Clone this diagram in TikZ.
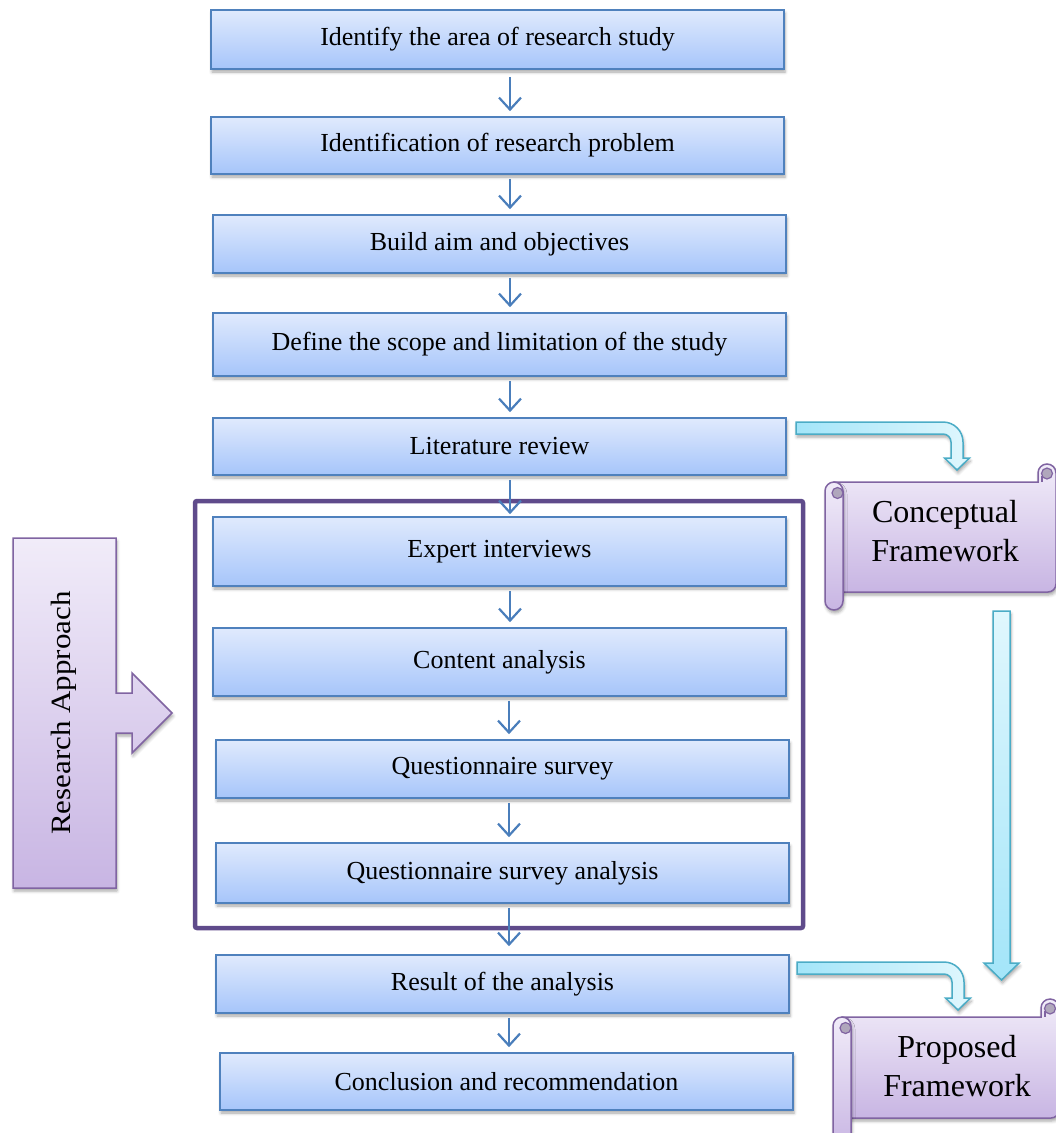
\documentclass[tikz,border=0pt]{standalone}
\usepackage{fontspec}
\setmainfont{Liberation Serif}
\usetikzlibrary{arrows.meta,shadows.blur}

\definecolor{boxtop}{RGB}{224,234,253}
\definecolor{boxbot}{RGB}{166,197,250}
\definecolor{boxline}{RGB}{79,129,189}
\definecolor{arrowblue}{RGB}{74,126,187}
\definecolor{frameviolet}{RGB}{95,75,139}
\definecolor{lilactop}{RGB}{241,236,249}
\definecolor{lilacbot}{RGB}{200,181,227}
\definecolor{lilacline}{RGB}{128,100,162}
\definecolor{curlgrey}{RGB}{176,167,188}
\definecolor{cyanline}{RGB}{75,172,198}
\definecolor{cyandeep}{RGB}{163,229,249}
\definecolor{cyanpale}{RGB}{224,247,253}

\begin{document}
\begin{tikzpicture}[x=1pt,y=-1pt,
  softshadow/.style={blur shadow={shadow xshift=1pt, shadow yshift=-3pt,
      shadow opacity=35, shadow blur radius=3pt}},
  stepbox/.style={draw=boxline, line width=1.6pt, top color=boxtop,
      bottom color=boxbot, minimum width=573pt, inner sep=0pt,
      font=\fontsize{26}{30}\selectfont, softshadow},
  flow/.style={draw=arrowblue, line width=2.2pt,
      -{Straight Barb[length=12pt, width=22pt]},
      shorten <=4pt, shorten >=5pt},
  groupframe/.style={draw=frameviolet, line width=4.5pt, rounded corners=2pt,
      inner sep=0pt},
  lilac/.style={draw=lilacline, line width=1.5pt, top color=lilactop,
      bottom color=lilacbot, softshadow},
  curl/.style={draw=lilacline, line width=1.2pt, fill=curlgrey},
  cyanarrow/.style={draw=cyanline, line width=1.5pt, softshadow},
  scrolltext/.style={align=center, font=\fontsize{32}{39}\selectfont},
]
\useasboundingbox (0,0) rectangle (1056,1133);
\clip (0,0) rectangle (1056,1133);

% ---- outline of the research-approach group
\node[groupframe, minimum width=608pt, minimum height=427pt] (grp) at (499,714.5) {};

% ---- main chain of steps
\node[stepbox, minimum height=59pt] (b1)  at (497.5,39.5)  {Identify the area of research study};
\node[stepbox, minimum height=57pt] (b2)  at (497.5,145.5) {Identification of research problem};
\node[stepbox, minimum height=58pt] (b3)  at (499.5,244)   {Build aim and objectives};
\node[stepbox, minimum height=63pt] (b4)  at (499.5,344.5) {Define the scope and limitation of the study};
\node[stepbox, minimum height=57pt] (b5)  at (499.5,446.5) {Literature review};
\node[stepbox, minimum height=69pt] (b6)  at (499.5,551.5) {Expert interviews};
\node[stepbox, minimum height=68pt] (b7)  at (499.5,662)   {Content analysis};
\node[stepbox, minimum height=58pt] (b8)  at (502.5,769)   {Questionnaire survey};
\node[stepbox, minimum height=60pt] (b9)  at (502.5,873)   {Questionnaire survey analysis};
\node[stepbox, minimum height=58pt] (b10) at (502.5,984)   {Result of the analysis};
\node[stepbox, minimum height=57pt] (b11) at (506.5,1081.5){Conclusion and recommendation};

% ---- connectors between the steps
\coordinate (ax) at (510,0);
\coordinate (bx) at (509,0);
\draw[flow, shorten <=7pt] (b1.south -| ax) -- (b2.north -| ax);
\draw[flow] (b2.south -| ax) -- (b3.north -| ax);
\draw[flow] (b3.south -| ax) -- (b4.north -| ax);
\draw[flow] (b4.south -| ax) -- (b5.north -| ax);
\draw[flow, shorten >=2pt] (b5.south -| ax) -- (b6.north -| ax);
\draw[flow] (b6.south -| ax) -- (b7.north -| ax);
\draw[flow] (b7.south -| bx) -- (b8.north -| bx);
\draw[flow] (b8.south -| bx) -- (b9.north -| bx);
\draw[flow, shorten >=8pt] (b9.south -| bx) -- (b10.north -| bx);
\draw[flow] (b10.south -| bx) -- (b11.north -| bx);

% ---- research approach block arrow
\path[lilac] (13,538) -- (116,538) -- (116,693) -- (132,693) -- (132,673)
  -- (172,713) -- (132,753) -- (132,733) -- (116,733) -- (116,888)
  -- (13,888) -- cycle;
\node[rotate=90, font=\fontsize{31}{31}\selectfont] (ra) at (64,713)
  {\scalebox{1}[0.9]{Research Approach}};

% ---- scroll: conceptual framework
\path[lilac] (834,482) -- (1038,482) -- (1038,473)
  .. controls (1038,468.03) and (1042.03,464) .. (1047,464)
  .. controls (1051.97,464) and (1056,468.03) .. (1056,473)
  -- (1056,584) .. controls (1056,588.4) and (1052.4,592) .. (1048,592)
  -- (834,592) -- cycle;
\draw[curl] (1047,473.5) circle[radius=5.5];
\draw[draw=lilacline, line width=1.2pt] (1042,476) -- (1042,482);
\path[lilac, rounded corners=9pt] (825,482) rectangle (843,610);
\draw[curl] (837.5,493) circle[radius=5.5];
\node[scrolltext] (cf) at (945,531) {Conceptual\\Framework};

% ---- scroll: proposed framework
\path[lilac] (842,1017) -- (1041,1017) -- (1041,1008)
  .. controls (1041,1003.03) and (1045.03,999) .. (1050,999)
  .. controls (1054.97,999) and (1059,1003.03) .. (1059,1008)
  -- (1059,1110) .. controls (1059,1114.4) and (1055.4,1118) .. (1051,1118)
  -- (842,1118) -- cycle;
\draw[curl] (1050,1008.5) circle[radius=5.5];
\draw[draw=lilacline, line width=1.2pt] (1045,1011) -- (1045,1017);
\path[lilac, rounded corners=9pt] (833,1017) rectangle (851,1150);
\draw[curl] (845.5,1028) circle[radius=5.5];
\node[scrolltext] (pf) at (957,1066) {Proposed\\Framework};

% ---- cyan block arrows
\path[cyanarrow, left color=cyandeep, right color=cyanpale]
  (796,422) -- (943,422) .. controls (954.05,422) and (963,430.95) .. (963,442)
  -- (963,458) -- (969.5,458) -- (957,470) -- (944.5,458) -- (951,458)
  -- (951,442) .. controls (951,437.58) and (947.42,434) .. (943,434)
  -- (796,434) -- cycle;
\path[cyanarrow, left color=cyandeep, right color=cyanpale]
  (797,962) -- (944,962) .. controls (955.05,962) and (964,970.95) .. (964,982)
  -- (964,998) -- (970.5,998) -- (958,1010) -- (945.5,998) -- (952,998)
  -- (952,982) .. controls (952,977.58) and (948.42,974) .. (944,974)
  -- (797,974) -- cycle;
\path[cyanarrow, top color=cyanpale, bottom color=cyandeep]
  (993,611) -- (1010,611) -- (1010,963) -- (1019,963) -- (1001.5,980)
  -- (984,963) -- (993,963) -- cycle;
\end{tikzpicture}
\end{document}
